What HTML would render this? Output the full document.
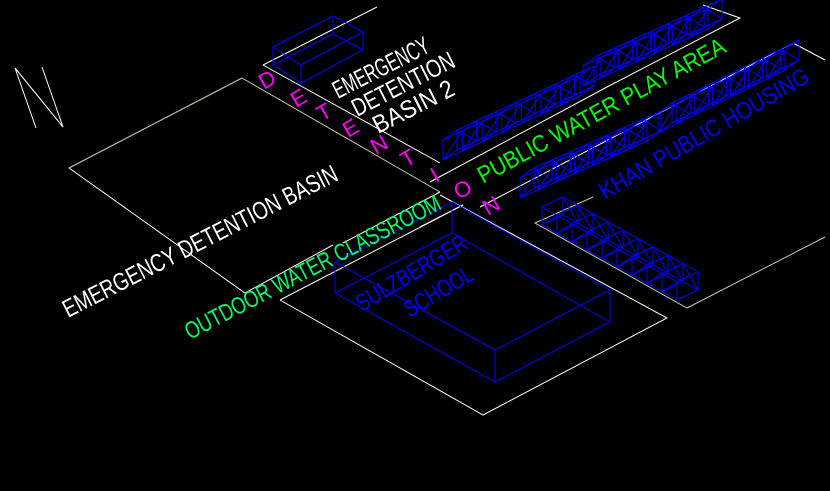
<!DOCTYPE html>
<html><head><meta charset="utf-8"><style>
html,body{margin:0;padding:0;background:#000;}
svg{display:block;}
text{font-family:"Liberation Sans",sans-serif;}
</style></head><body>
<svg id="s" width="830" height="491" viewBox="0 0 830 491" xmlns="http://www.w3.org/2000/svg">
<rect width="830" height="491" fill="#000"/>
<g fill="none" stroke="#fff" stroke-width="1">
<polyline points="36,128 15,68 63,127 42,67"/>
<polyline points="440,192 242,78" stroke="#c8c8a0"/>
<polyline points="242,78 69,168 245,293 333,245" stroke="#fff"/>
<line x1="69" y1="168" x2="242" y2="78" stroke="#b4b48c"/>
<line x1="343" y1="243" x2="440" y2="192"/>
<line x1="263" y1="65" x2="377" y2="7"/>
<line x1="263" y1="65" x2="440" y2="163"/>
<polyline points="430,182 607,87 740,18 703,5"/>
<polyline points="480,207 793,43 825,60"/>
<line x1="420" y1="227" x2="463" y2="205"/>
<line x1="280" y1="300" x2="463" y2="205"/>
<polyline points="440,195 667,318 483,415 280,300"/>
<polyline points="593,197 535,223 687,308 825,237" stroke="#c8c8a0"/>
</g>
<g fill="none" stroke="#0000ff" stroke-width="1">
<polygon points="335,262 452,202 610,290 495,350"/>
<polyline points="335,262 335,293 495,382 610,322 610,290"/>
<line x1="495" y1="350" x2="495" y2="382"/>
<polyline points="335,293 452,233 610,322"/>
<line x1="452" y1="202" x2="452" y2="233"/>
<polygon points="273,47 333,16 363,32 301,65"/>
<polyline points="273,47 273,65 301,83 363,50 363,32"/>
<line x1="301" y1="65" x2="301" y2="83"/>
<polyline points="273,65 333,34 363,50"/>
<line x1="333" y1="16" x2="333" y2="34"/>
</g>
<g id="boxes" fill="none" stroke="#0000ff" stroke-width="1"></g>
<g fill="#fff" font-size="25">
<text transform="translate(68,318) rotate(-27)" textLength="305" lengthAdjust="spacingAndGlyphs">EMERGENCY DETENTION BASIN</text>
<text transform="translate(338,99) rotate(-27)" textLength="105" lengthAdjust="spacingAndGlyphs">EMERGENCY</text>
<text transform="translate(357,117) rotate(-27)" textLength="112" lengthAdjust="spacingAndGlyphs">DETENTION</text>
<text transform="translate(378,134) rotate(-27)" textLength="88" lengthAdjust="spacingAndGlyphs">BASIN 2</text>
</g>
<text fill="#00ff66" font-size="24" transform="translate(190,340) rotate(-27.5)" textLength="285" lengthAdjust="spacingAndGlyphs">OUTDOOR WATER CLASSROOM</text>
<text fill="#00ff00" font-size="24" transform="translate(483,184) rotate(-28.5)" textLength="278" lengthAdjust="spacingAndGlyphs">PUBLIC WATER PLAY AREA</text>
<text fill="#0000ff" font-size="24" transform="translate(605,200) rotate(-30)" textLength="238" lengthAdjust="spacingAndGlyphs">KHAN PUBLIC HOUSING</text>
<text fill="#0000ff" font-size="24" transform="translate(362,312) rotate(-31)" textLength="125" lengthAdjust="spacingAndGlyphs">SULZBERGER</text>
<text fill="#0000ff" font-size="24" transform="translate(410,318) rotate(-31)" textLength="76" lengthAdjust="spacingAndGlyphs">SCHOOL</text>
<g fill="#ff00ff" font-size="22">
<text transform="translate(264,90) rotate(-30)">D</text>
<text transform="translate(296,108) rotate(-30)">E</text>
<text transform="translate(322,122) rotate(-30)">T</text>
<text transform="translate(348,138) rotate(-30)">E</text>
<text transform="translate(376,155) rotate(-30)">N</text>
<text transform="translate(406,168) rotate(-30)">T</text>
<text transform="translate(436,183) rotate(-30)">I</text>
<text transform="translate(459,200) rotate(-30)">O</text>
<text transform="translate(488,216) rotate(-30)">N</text>
</g>
</svg>
<script>
(function(){
var g=document.getElementById('boxes'),out='';
function L(a,b){out+='<line x1="'+a[0].toFixed(1)+'" y1="'+a[1].toFixed(1)+'" x2="'+b[0].toFixed(1)+'" y2="'+b[1].toFixed(1)+'"/>';}
function box(P,Lv,D,h,n){
 function pt(t,d,z){return [P[0]+Lv[0]*t+D[0]*d,P[1]+Lv[1]*t+D[1]*d-h*z];}
 for(var d=0;d<=1;d++)for(var z=0;z<=1;z++)L(pt(0,d,z),pt(1,d,z));
 for(var i=0;i<=n;i++){var t=i/n;
  L(pt(t,0,0),pt(t,0,1));L(pt(t,1,0),pt(t,1,1));
  L(pt(t,0,1),pt(t,1,1));L(pt(t,0,0),pt(t,1,0));
  if(i<n){var t2=(i+1)/n;L(pt(t,0,0),pt(t2,0,1));L(pt(t,1,1),pt(t2,1,0));}
 }
}
box([443,160],[137,-64],[14,-10],20,7);
box([583,86],[125,-57],[14,-10],20,7);
box([520,198],[127,-57],[14,-10],20,7);
box([658,133],[127,-63],[14,-10],20,7);
box([542,225],[135,75],[21,-10],18,9);
g.innerHTML=out;
})();
</script>
</body></html>
